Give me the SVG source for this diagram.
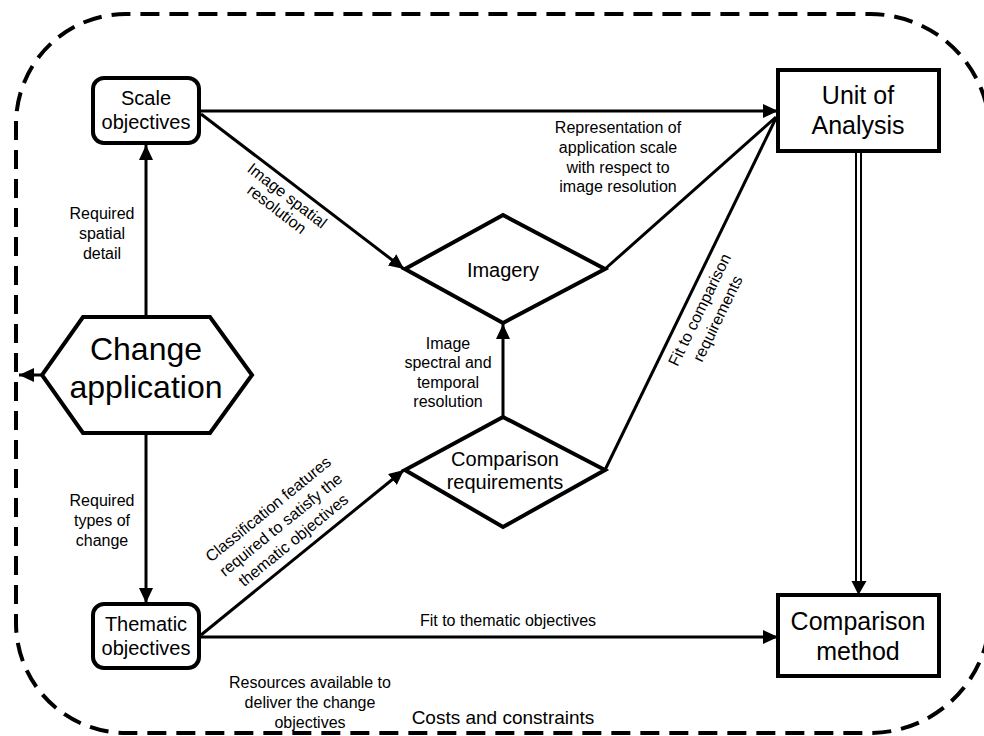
<svg xmlns="http://www.w3.org/2000/svg" width="984" height="736" viewBox="0 0 984 736">
<style>
text{font-family:"Liberation Sans",Arial,sans-serif;fill:#000}
.lbl{font-size:16px}
.node{fill:#fff;stroke:#000;stroke-width:4}
.con{fill:none;stroke:#000;stroke-width:3}
.nt{font-size:20px}
.big{font-size:25px}
</style>
<defs>
<marker id="ah" markerUnits="userSpaceOnUse" markerWidth="16" markerHeight="14" refX="15" refY="7" orient="auto">
<path d="M0,0 L15,7 L0,14 z" fill="#000"/>
</marker>
</defs>
<path d="M990,134 A120,120 0 0 0 870,14 L126,14 A110,110 0 0 0 16,124 L16,623 A110,110 0 0 0 126,733 L870,733 A120,120 0 0 0 990,613" fill="none" stroke="#000" stroke-width="4" stroke-dasharray="19 10"/>
<g id="connectors">
<line class="con" x1="146" y1="317" x2="146" y2="145" marker-end="url(#ah)"/>
<line class="con" x1="146" y1="433" x2="146" y2="603" marker-end="url(#ah)"/>
<line class="con" x1="42" y1="375" x2="19" y2="375" marker-end="url(#ah)"/>
<line class="con" x1="199" y1="111" x2="778" y2="111" marker-end="url(#ah)"/>
<line class="con" x1="201" y1="114" x2="404" y2="269" marker-end="url(#ah)"/>
<line class="con" x1="605" y1="269" x2="776" y2="117"/>
<line class="con" x1="605" y1="470" x2="776" y2="118"/>
<line class="con" x1="503" y1="417" x2="503" y2="324" marker-end="url(#ah)"/>
<line class="con" x1="201" y1="635" x2="404" y2="470" marker-end="url(#ah)"/>
<line class="con" x1="199" y1="637" x2="778" y2="637" marker-end="url(#ah)"/>
<line stroke="#000" stroke-width="2" x1="856" y1="151" x2="856" y2="584"/>
<line stroke="#000" stroke-width="2" x1="861" y1="151" x2="861" y2="584"/>
<path d="M851.5,581 L866.5,581 L858.5,595 z" fill="#000"/>
</g>
<g id="scale-objectives">
<rect class="node" x="93" y="78" width="106" height="65" rx="11"/>
<text class="nt" x="146" y="105" text-anchor="middle">Scale</text>
<text class="nt" x="146" y="129" text-anchor="middle">objectives</text>
</g>
<g id="change-application">
<polygon class="node" points="83,317 210,317 252,375 210,433 83,433 42,375"/>
<text x="146" y="360" text-anchor="middle" font-size="32">Change</text>
<text x="146" y="398" text-anchor="middle" font-size="32">application</text>
</g>
<g id="thematic-objectives">
<rect class="node" x="93" y="604" width="106" height="64" rx="11"/>
<text class="nt" x="146" y="631" text-anchor="middle">Thematic</text>
<text class="nt" x="146" y="655" text-anchor="middle">objectives</text>
</g>
<g id="unit-of-analysis">
<rect class="node" x="778" y="70" width="161" height="81"/>
<text class="big" x="858" y="104" text-anchor="middle">Unit of</text>
<text class="big" x="858" y="134" text-anchor="middle">Analysis</text>
</g>
<g id="comparison-method">
<rect class="node" x="778" y="595" width="161" height="81"/>
<text class="big" x="858" y="630" text-anchor="middle">Comparison</text>
<text class="big" x="858" y="660" text-anchor="middle">method</text>
</g>
<g id="imagery">
<polygon class="node" points="503,215 605,269 503,323 405,269"/>
<text class="nt" x="503" y="277" text-anchor="middle">Imagery</text>
</g>
<g id="comparison-requirements">
<polygon class="node" points="503,417 605,470 503,527 405,470"/>
<text class="nt" x="505" y="466" text-anchor="middle">Comparison</text>
<text class="nt" x="505" y="489" text-anchor="middle">requirements</text>
</g>
<g id="labels">
<text class="lbl" text-anchor="middle"><tspan x="102" y="219">Required</tspan><tspan x="102" y="239">spatial</tspan><tspan x="102" y="259">detail</tspan></text>
<text class="lbl" text-anchor="middle"><tspan x="102" y="506">Required</tspan><tspan x="102" y="526">types of</tspan><tspan x="102" y="546">change</tspan></text>
<text class="lbl" text-anchor="middle" transform="translate(287,196) rotate(37.7)"><tspan x="0" y="5">Image spatial</tspan><tspan x="0" y="22">resolution</tspan></text>
<text class="lbl" text-anchor="middle"><tspan x="618" y="133">Representation of</tspan><tspan x="618" y="153">application scale</tspan><tspan x="618" y="173">with respect to</tspan><tspan x="618" y="192">image resolution</tspan></text>
<text class="lbl" text-anchor="middle"><tspan x="448" y="349">Image</tspan><tspan x="448" y="368">spectral and</tspan><tspan x="448" y="388">temporal</tspan><tspan x="448" y="407">resolution</tspan></text>
<text class="lbl" text-anchor="middle" transform="translate(700,310) rotate(-64)"><tspan x="0" y="5">Fit to comparison</tspan><tspan x="0" y="25">requirements</tspan></text>
<text class="lbl" text-anchor="middle" transform="translate(281,525) rotate(-39.2)"><tspan x="0" y="-15">Classification features</tspan><tspan x="0" y="5">required to satisfy the</tspan><tspan x="0" y="25">thematic objectives</tspan></text>
<text class="lbl" x="508" y="626" text-anchor="middle">Fit to thematic objectives</text>
<text class="lbl" text-anchor="middle"><tspan x="310" y="688">Resources available to</tspan><tspan x="310" y="708">deliver the change</tspan><tspan x="310" y="728">objectives</tspan></text>
<text x="503" y="724" text-anchor="middle" font-size="19">Costs and constraints</text>
</g>
</svg>
